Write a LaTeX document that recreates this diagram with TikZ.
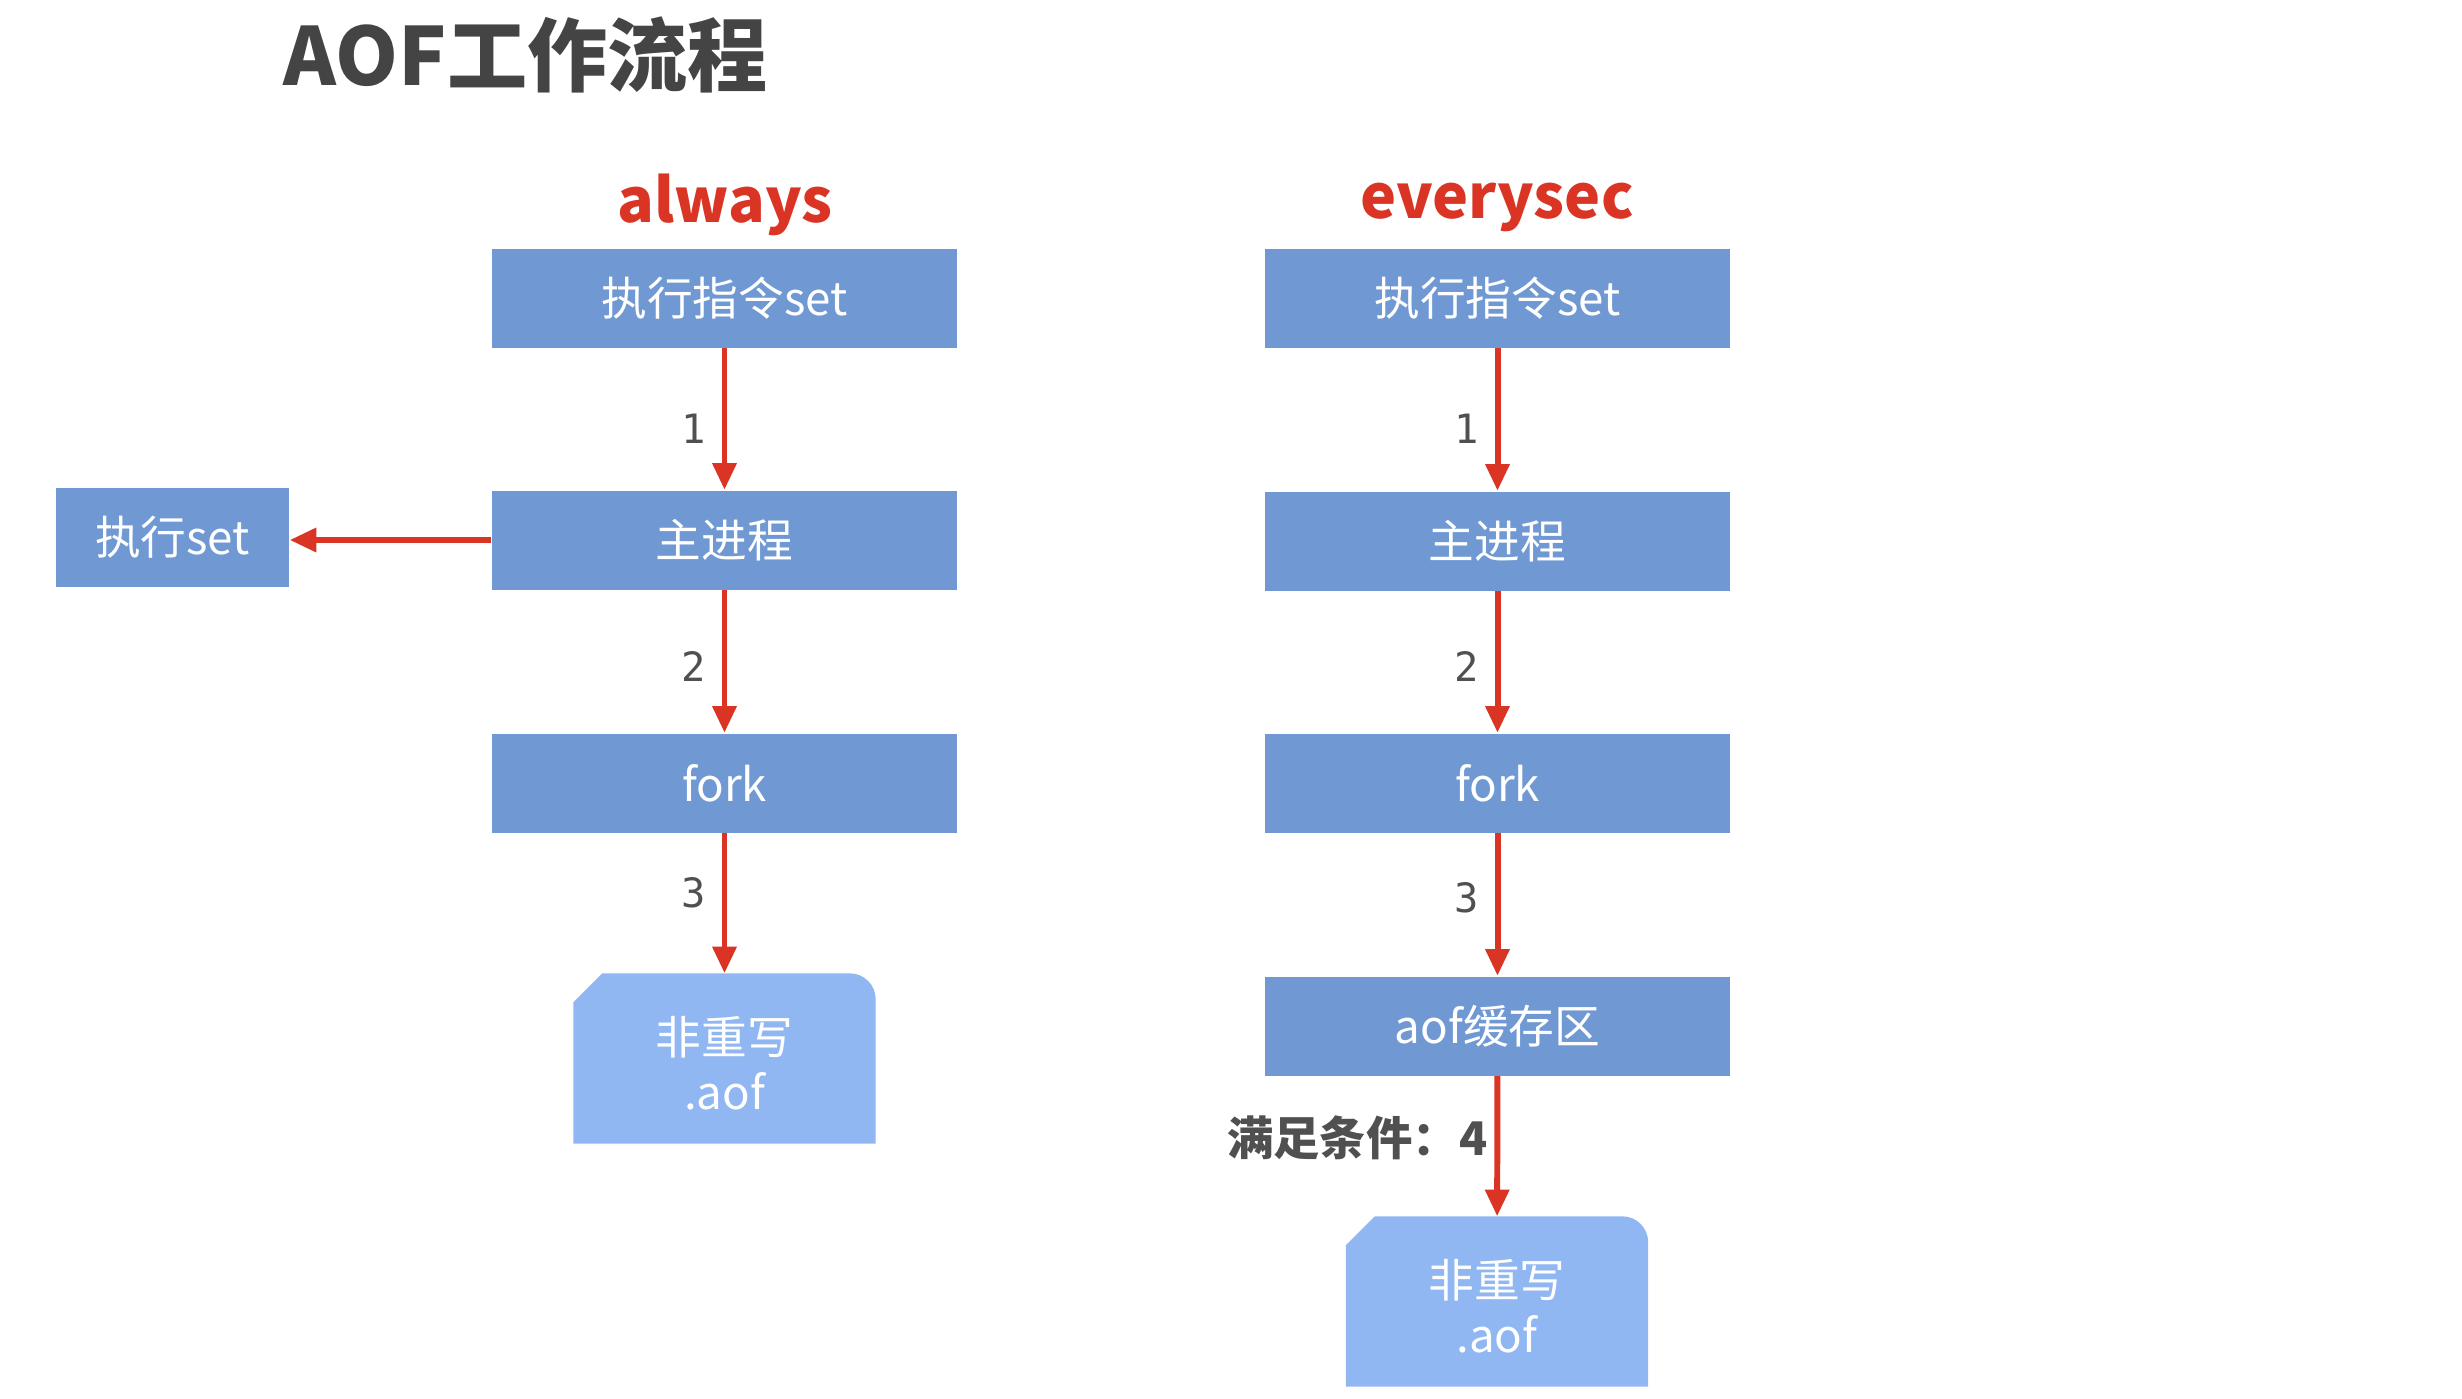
\documentclass[tikz,border=0pt]{standalone}
\usepackage{fontspec}
\setmainfont{Noto Sans CJK SC}
\newfontfamily\monofnt{DejaVu Sans Mono}
\usetikzlibrary{arrows.meta,calc,backgrounds}
\definecolor{boxblue}{RGB}{112,153,212}
\definecolor{fileblue}{RGB}{145,183,242}
\definecolor{arrred}{RGB}{218,52,36}
\definecolor{titlegray}{RGB}{68,68,68}
\definecolor{labgray}{RGB}{80,80,80}
\tikzset{
  procbox/.style={fill=boxblue,draw=none,minimum width=46.5mm,minimum height=9.9mm,inner sep=0pt,
    text=white,font=\fontsize{13}{15.6}\selectfont},
  filebox/.style={draw=none,minimum width=30.1mm,minimum height=16.9mm,inner sep=0pt,
    text=white,align=center,font=\fontsize{13}{15.6}\selectfont},
  flow/.style={draw=arrred,line width=1.7pt,-{Triangle[width=6.6pt,length=7.6pt]}},
  steplab/.style={text=labgray,font=\monofnt\fontsize{11.5}{13}\selectfont,inner sep=0pt},
  modelab/.style={text=arrred,font=\bfseries\fontsize{17.3}{20}\selectfont,inner sep=0pt},
}
\begin{document}
\begin{tikzpicture}[x=0.1mm,y=-0.1mm]
\useasboundingbox (0,0) rectangle (2462,1398);
% title
\node[anchor=base west,inner sep=0pt,text=titlegray,font=\bfseries\fontsize{22.8}{26}\selectfont] (title) at (283,85) {AOF工作流程};
% always column
\node[modelab,anchor=base] (always) at (725,222) {always};
\node[procbox] (a1) at (724.5,298) {执行指令set};
\node[procbox] (a2) at (724.5,540) {主进程};
\node[procbox] (a3) at (724.5,783) {fork};
\node[filebox] (af) at (724.5,1058.5) {};
\node[procbox,minimum width=23.3mm] (ex) at (172.5,537.5) {执行set};
% everysec column
\node[modelab,anchor=base] (every) at (1497,218) {everysec};
\node[procbox] (e1) at (1497.5,298) {执行指令set};
\node[procbox] (e2) at (1497.5,541) {主进程};
\node[procbox] (e3) at (1497.5,783) {fork};
\node[procbox] (e4) at (1497.5,1026) {aof缓存区};
\node[filebox] (ef) at (1497,1301.5) {};
% file shapes
\begin{scope}[on background layer]
\foreach \f in {af,ef}{
  \fill[fileblue] ($(\f.north west)+(0,29)$) -- ($(\f.north west)+(29,0)$) -- ($(\f.north east)+(-26,0)$)
    .. controls ($(\f.north east)+(-11.6,0)$) and ($(\f.north east)+(0,11.6)$) .. ($(\f.north east)+(0,26)$)
    -- (\f.south east) -- (\f.south west) -- cycle;
}
\end{scope}
\node[filebox,minimum width=0pt,minimum height=0pt,yshift=-1.4pt] (aft) at (af) {非重写\\.aof};
\node[filebox,minimum width=0pt,minimum height=0pt,yshift=-1.4pt] (eft) at (ef) {非重写\\.aof};
% connectors
\draw[flow] (a1) -- node[steplab,left=4.5pt,yshift=-2.7pt] (l1) {1} (a2);
\draw[flow] (a2) -- node[steplab,left=4.5pt,yshift=-1.4pt] (l2) {2} (a3);
\draw[flow] (a3) -- node[steplab,left=4.5pt,yshift=3pt] (l3) {3} (af);
\draw[flow] (a2.west) -- (a2.west -| ex.east);
\draw[flow] (e1) -- node[steplab,left=4.5pt,yshift=-2.7pt] (r1) {1} (e2);
\draw[flow] (e2) -- node[steplab,left=4.5pt,yshift=-1.4pt] (r2) {2} (e3);
\draw[flow] (e3) -- node[steplab,left=4.5pt,yshift=2pt] (r3) {3} (e4);
\draw[flow] (e4) -- node[left=2pt,yshift=2.5pt,inner sep=0pt,text=labgray,font=\bfseries\fontsize{13.2}{15}\selectfont] (cond) {满足条件：4} (ef);
\end{tikzpicture}
\end{document}
